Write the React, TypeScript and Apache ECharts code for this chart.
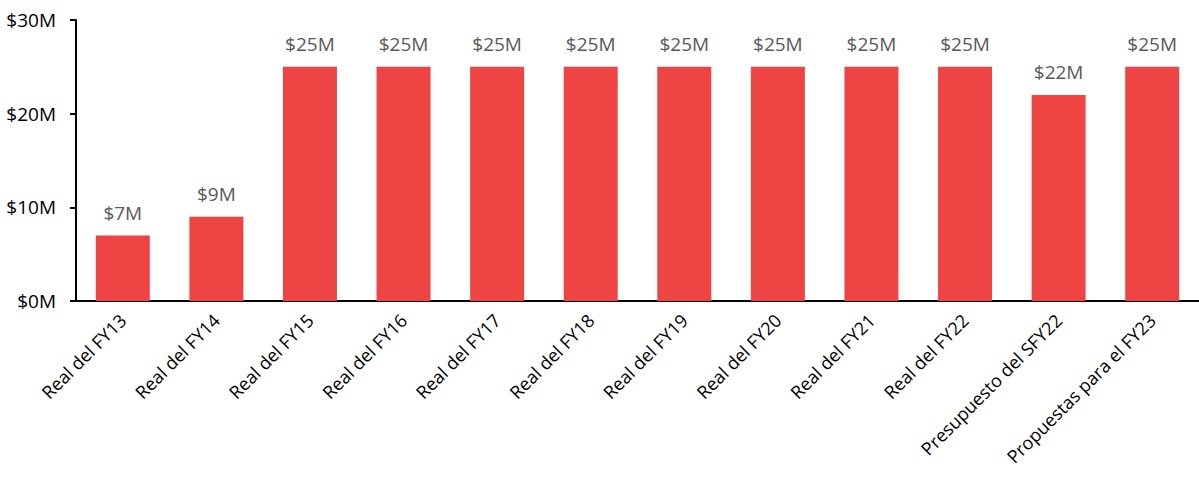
import React, { useEffect, useRef } from "react";
import * as echarts from "echarts";

const categories = [
  "Real del FY13",
  "Real del FY14",
  "Real del FY15",
  "Real del FY16",
  "Real del FY17",
  "Real del FY18",
  "Real del FY19",
  "Real del FY20",
  "Real del FY21",
  "Real del FY22",
  "Presupuesto del SFY22",
  "Propuestas para el FY23",
];
const values = [7, 9, 25, 25, 25, 25, 25, 25, 25, 25, 22, 25];
const yTicks = [0, 10, 20, 30];

const FONT = "'Open Sans', 'Liberation Sans', sans-serif";

export default function App() {
  const ref = useRef<HTMLDivElement>(null);
  useEffect(() => {
    if (!ref.current) return;
    const chart = echarts.init(ref.current, undefined, { renderer: "svg" });
    chart.setOption({
      animation: false,
      grid: { left: 76, right: -7, top: 20, bottom: 178, containLabel: false },
      xAxis: {
        type: "category",
        data: categories,
        axisLine: { show: true, lineStyle: { color: "#000", width: 2 } },
        axisTick: { show: false },
        axisLabel: {
          rotate: 45,
          margin: 16,
          fontSize: 18,
          color: "#000",
          fontFamily: FONT,
          interval: 0,
        },
      },
      yAxis: {
        type: "value",
        min: yTicks[0],
        max: yTicks[yTicks.length - 1],
        interval: 10,
        splitLine: { show: false },
        axisLine: { show: true, lineStyle: { color: "#000", width: 2 } },
        axisTick: { show: true, length: 6, lineStyle: { color: "#000", width: 2 } },
        axisLabel: {
          formatter: (v: number) => "$" + v + "M",
          fontSize: 19,
          color: "#000",
          fontFamily: FONT,
          margin: 20,
        },
      },
      series: [
        {
          type: "bar",
          data: values,
          barWidth: 54,
          itemStyle: { color: "#EF4444" },
          label: {
            show: true,
            position: "top",
            distance: 13,
            formatter: (p: any) => "$" + p.value + "M",
            fontSize: 19,
            color: "#595959",
            fontFamily: FONT,
          },
        },
      ],
    });
    return () => chart.dispose();
  }, []);
  return <div ref={ref} style={{ width: 1199, height: 479, position: "absolute", left: 0, top: 0 }} />;
}
